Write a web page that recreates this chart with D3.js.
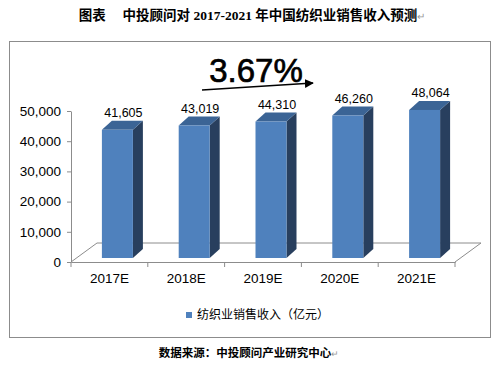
<!DOCTYPE html>
<html>
<head>
<meta charset="utf-8">
<script src="https://cdn.jsdelivr.net/npm/d3@7/dist/d3.min.js"></script>
<style>
  body { margin: 0; background: #fff; }
  svg { display: block; }
</style>
</head>
<body>
<div id="chart"></div>
<script>
// data
const years = ['2017E', '2018E', '2019E', '2020E', '2021E'];
const revenue = [41605, 43019, 44310, 46260, 48064];
const yTicks = [0, 10000, 20000, 30000, 40000, 50000];
const seriesName = '纺织业销售收入（亿元）';
const growthLabel = '3.67%';
const titleText = '图表　 中投顾问对 2017-2021 年中国纺织业销售收入预测';
const sourceText = '数据来源：中投顾问产业研究中心';

const width = 498, height = 372;
const cjk = '"Liberation Sans", Arial, "Noto Sans CJK SC", sans-serif';

const svg = d3.select('#chart').append('svg')
    .attr('width', width)
    .attr('height', height);

// title
const title = svg.append('text')
    .attr('x', 252)
    .attr('y', 20)
    .attr('text-anchor', 'middle')
    .style('font-family', '"Liberation Serif", "Noto Sans CJK SC", serif')
    .style('font-weight', 'bold')
    .style('font-size', '13.5px');
title.append('tspan').text(titleText);
title.append('tspan').attr('fill', '#999').style('font-weight', 'normal').style('font-size', '10px').text('↵');

// chart frame
svg.append('rect')
    .attr('x', 9.5).attr('y', 41.5)
    .attr('width', 481).attr('height', 296)
    .attr('fill', 'none')
    .attr('stroke', '#8c8c8c');

var x = d3.scaleBand().domain(years).range([71, 455]);
var y = d3.scaleLinear().domain([0, 50000]).range([262, 111]);
// bars stand half way into the floor, so they use a shifted scale
var yBar = d3.scaleLinear().domain([0, 50000]).range([258, 104]);

var depth = { dx: 26, dy: -19 };
var barDepth = { dx: 10, dy: -9 };
var barW = 31;

// floor outline
var x0 = x.range()[0], x1 = x.range()[1], y0 = y(0);
svg.append('path')
    .attr('d', 'M' + x0 + ',' + y0 + 'L' + (x0 + depth.dx) + ',' + (y0 + depth.dy) +
        'L' + (x1 + depth.dx) + ',' + (y0 + depth.dy) + 'L' + x1 + ',' + y0)
    .attr('fill', 'none')
    .attr('stroke', '#8c8c8c');

// y axis
var yAxis = svg.append('g')
    .attr('transform', 'translate(' + x0 + ',0)')
    .call(d3.axisLeft(y).tickValues(yTicks).tickFormat(d3.format(',')).tickSize(4).tickSizeOuter(0).tickPadding(6));
yAxis.select('.domain').attr('stroke', '#8c8c8c');
yAxis.selectAll('.tick line').attr('stroke', '#8c8c8c');
yAxis.selectAll('text').style('font-family', cjk).style('font-size', '13.5px').attr('fill', '#000');

// x axis (ticks sit between categories)
var xAxis = svg.append('g')
    .attr('transform', 'translate(0,' + y0 + ')')
    .call(d3.axisBottom(x).tickSize(0).tickPadding(11));
xAxis.select('.domain').attr('stroke', '#8c8c8c');
xAxis.selectAll('text').style('font-family', cjk).style('font-size', '13.5px').attr('fill', '#000');
xAxis.selectAll('.edge')
    .data(years.map(function(d) { return x(d); }).concat([x1]))
    .enter().append('line')
    .attr('x1', function(d) { return d; })
    .attr('x2', function(d) { return d; })
    .attr('y1', 0).attr('y2', 5)
    .attr('stroke', '#8c8c8c');

// 3d bars
var bars = svg.selectAll('.bar')
    .data(revenue)
    .enter().append('g')
    .attr('class', 'bar');

function fx(d, i) { return x(years[i]) + x.bandwidth() / 2 - 7.5; }

bars.append('path')
    .attr('d', function(d, i) {
        var l = fx(d, i), r = l + barW, t = yBar(d), b = yBar(0);
        return 'M' + r + ',' + t + 'L' + (r + barDepth.dx) + ',' + (t + barDepth.dy) +
            'L' + (r + barDepth.dx) + ',' + (b + barDepth.dy) + 'L' + r + ',' + b + 'Z';
    })
    .attr('fill', '#283f5e');

bars.append('path')
    .attr('d', function(d, i) {
        var l = fx(d, i), r = l + barW, t = yBar(d);
        return 'M' + l + ',' + t + 'L' + (l + barDepth.dx) + ',' + (t + barDepth.dy) +
            'L' + (r + barDepth.dx) + ',' + (t + barDepth.dy) + 'L' + r + ',' + t + 'Z';
    })
    .attr('fill', '#3b6495');

bars.append('rect')
    .attr('x', fx)
    .attr('y', function(d) { return yBar(d); })
    .attr('width', barW)
    .attr('height', function(d) { return yBar(0) - yBar(d); })
    .attr('fill', '#4f81bd');

bars.append('text')
    .attr('x', function(d, i) { return fx(d, i) + barW / 2 + 6; })
    .attr('y', function(d) { return yBar(d) - 17; })
    .attr('dy', '0.35em')
    .attr('text-anchor', 'middle')
    .style('font-family', cjk)
    .style('font-size', '12.5px')
    .text(d3.format(','));

// growth annotation
svg.append('defs').append('marker')
    .attr('id', 'arrow')
    .attr('viewBox', '0 0 10 10')
    .attr('refX', 9).attr('refY', 5)
    .attr('markerWidth', 6).attr('markerHeight', 6)
    .attr('orient', 'auto')
    .append('path')
    .attr('d', 'M0,0L10,5L0,10Z')
    .attr('fill', '#000');

svg.append('line')
    .attr('x1', 202).attr('y1', 90)
    .attr('x2', 313).attr('y2', 83)
    .attr('stroke', '#000')
    .attr('stroke-width', 1.5)
    .attr('marker-end', 'url(#arrow)');

svg.append('text')
    .attr('x', 256)
    .attr('y', 82)
    .attr('text-anchor', 'middle')
    .attr('stroke', '#000')
    .attr('stroke-width', 0.7)
    .style('font-family', cjk)
    .style('font-size', '33px')
    .text(growthLabel);

// legend
svg.append('rect')
    .attr('x', 186).attr('y', 312)
    .attr('width', 6).attr('height', 6)
    .attr('fill', '#4f81bd');
svg.append('text')
    .attr('x', 197).attr('y', 315)
    .attr('dy', '0.35em')
    .style('font-family', '"Noto Sans CJK SC", sans-serif')
    .style('font-size', '12px')
    .text(seriesName);

// source
var src = svg.append('text')
    .attr('x', 249).attr('y', 353)
    .attr('dy', '0.35em')
    .attr('text-anchor', 'middle')
    .style('font-family', '"Noto Sans CJK SC", sans-serif')
    .style('font-weight', 'bold')
    .style('font-size', '11.5px');
src.append('tspan').text(sourceText);
src.append('tspan').attr('fill', '#999').style('font-weight', 'normal').style('font-size', '9px').text('↵');
</script>
</body>
</html>
